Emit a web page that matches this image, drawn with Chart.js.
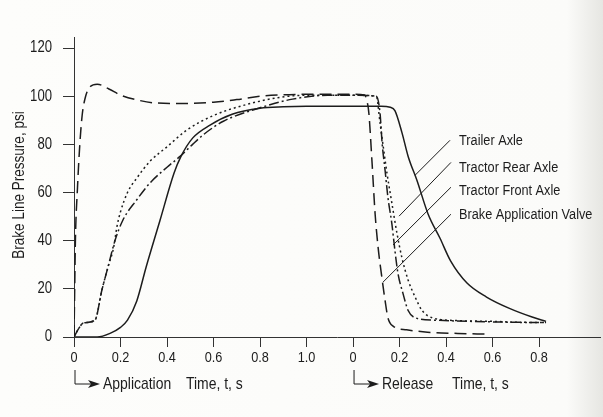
<!DOCTYPE html>
<html>
<head>
<meta charset="utf-8">
<script src="https://cdn.jsdelivr.net/npm/chart.js@4.4.1/dist/chart.umd.min.js"></script>
<style>
  html, body { margin: 0; padding: 0; }
  body {
    width: 603px; height: 417px; overflow: hidden;
    background: linear-gradient(to right, #fdfdfb 0%, #fbfbf9 94%, #e6e6e2 100%);
  }
  #wrap { position: relative; width: 603px; height: 417px; }
</style>
</head>
<body>
<div id="wrap"><canvas id="chart" width="603" height="417"></canvas></div>
<script>
// time axis: application 0..1.0 s, then release time restarts at 0 (placed at 1.2)
const RELEASE_OFFSET = 1.2;
const tickValues = [0, 0.2, 0.4, 0.6, 0.8, 1.0, 1.2, 1.4, 1.6, 1.8, 2.0];
const tickLabels = ["0", "0.2", "0.4", "0.6", "0.8", "1.0", "0", "0.2", "0.4", "0.6", "0.8"];
const pressureTicks = [0, 20, 40, 60, 80, 100, 120];

// [time s, pressure psi]
const trailerApplication = [[0, 0], [0.1, 0], [0.155, 1.5], [0.2, 4], [0.23, 7], [0.27, 15], [0.31, 29],
  [0.37, 48.5], [0.43, 68], [0.46, 75], [0.51, 82.6], [0.585, 88], [0.68, 92.5], [0.8, 95], [0.9, 95.6], [1.0, 95.8]];
const trailerRelease = [[0, 95.8], [0.12, 95.8], [0.16, 95.4], [0.18, 94], [0.21, 85], [0.237, 75], [0.275, 65],
  [0.323, 51], [0.374, 41], [0.42, 31.5], [0.49, 22.4], [0.574, 16.6], [0.67, 12], [0.77, 8.3], [0.83, 6.5]];

const rearApplication = [[0, 0], [0.02, 3.5], [0.04, 5.8], [0.09, 7], [0.12, 19.5], [0.146, 29], [0.17, 37],
  [0.185, 46], [0.2, 52], [0.23, 60], [0.27, 66], [0.327, 73], [0.4, 79], [0.486, 86], [0.6, 92],
  [0.74, 96.5], [0.89, 99.6], [1.0, 100.4]];
const rearRelease = [[0, 100.4], [0.1, 100], [0.116, 89], [0.13, 79], [0.146, 68], [0.167, 55.6], [0.189, 43],
  [0.21, 33], [0.237, 23.6], [0.267, 16.6], [0.297, 11], [0.34, 8], [0.45, 6.8], [0.6, 6.5], [0.75, 6], [0.83, 6]];

const frontApplication = [[0, 0], [0.02, 3.5], [0.04, 5.8], [0.09, 7], [0.12, 19.5], [0.146, 29], [0.176, 40],
  [0.21, 48.5], [0.27, 57], [0.327, 64], [0.4, 70.5], [0.456, 75], [0.51, 80], [0.556, 84], [0.64, 89.5],
  [0.8, 95.2], [0.94, 98.8], [1.09, 100.4]];
const frontRelease = [[0, 100.4], [0.1, 100], [0.116, 93], [0.125, 80.5], [0.138, 69], [0.15, 58], [0.167, 47],
  [0.18, 36], [0.193, 26.5], [0.215, 18], [0.237, 11], [0.267, 8], [0.35, 7], [0.5, 6.5], [0.65, 6.2], [0.83, 6]];

const valveApplication = [[0, 0], [0.003, 20], [0.006, 40], [0.015, 62], [0.025, 80], [0.035, 92], [0.05, 100],
  [0.07, 104], [0.1, 105], [0.15, 103], [0.2, 100.5], [0.27, 98.5], [0.35, 97.2], [0.45, 97], [0.6, 97.5],
  [0.7, 98.6], [0.8, 100], [0.9, 100.6], [1.0, 100.8]];
const valveRelease = [[0, 100.8], [0.05, 100.5], [0.06, 98], [0.068, 93], [0.082, 72], [0.095, 51], [0.108, 37],
  [0.125, 24], [0.138, 15], [0.15, 8], [0.172, 4.5], [0.23, 3], [0.32, 2], [0.45, 1.5], [0.57, 1.2]];

const seriesNames = ["Trailer Axle", "Tractor Rear Axle", "Tractor Front Axle", "Brake Application Valve"];

// callouts: [label x (release s), label y (psi), line from, line to]
const callouts = [
  [0.456, 81.7, [0.417, 81.7], [0.267, 67.2]],
  [0.456, 70.5, [0.421, 72.5], [0.198, 50.2]],
  [0.456, 60.6, [0.421, 62.2], [0.172, 38.2]],
  [0.456, 50.6, [0.421, 51.0], [0.129, 22.8]],
];

const FONT = '"Liberation Sans", Arial, sans-serif';
const SQUEEZE = 0.82; // the printed face is a condensed grotesque
const INK = "#1c1c1c";

function toPoints(app, rel) {
  return app.map(([t, p]) => ({ x: t, y: p }))
    .concat(rel.map(([t, p]) => ({ x: t + RELEASE_OFFSET, y: p })));
}

const styles = [
  { borderDash: [] },
  { borderDash: [2, 3] },
  { borderDash: [10, 3, 2, 3] },
  { borderDash: [12, 6] },
];
const pairs = [
  [trailerApplication, trailerRelease],
  [rearApplication, rearRelease],
  [frontApplication, frontRelease],
  [valveApplication, valveRelease],
];

const datasets = pairs.map((p, i) => ({
  label: seriesNames[i],
  data: toPoints(p[0], p[1]),
  borderColor: INK,
  borderWidth: 1.5,
  borderDash: styles[i].borderDash,
  pointRadius: 0,
  cubicInterpolationMode: "monotone",
  fill: false,
}));

function text(ctx, str, x, y, size, align, rot) {
  ctx.save();
  ctx.translate(x, y);
  if (rot) ctx.rotate(rot);
  ctx.scale(SQUEEZE, 1);
  ctx.font = size + "px " + FONT;
  ctx.textAlign = align;
  ctx.textBaseline = "middle";
  ctx.fillText(str, 0, 0);
  ctx.restore();
}

function drawArrow(ctx, x0, y0, y1, x1) {
  ctx.beginPath();
  ctx.moveTo(x0, y0);
  ctx.lineTo(x0, y1);
  ctx.lineTo(x1 - 8, y1);
  ctx.stroke();
  ctx.beginPath();
  ctx.moveTo(x1, y1);
  ctx.lineTo(x1 - 12, y1 - 4);
  ctx.lineTo(x1 - 9, y1);
  ctx.lineTo(x1 - 12, y1 + 4);
  ctx.closePath();
  ctx.fill();
}

const extras = {
  id: "extras",
  afterDraw(chart) {
    const ctx = chart.ctx;
    const xs = chart.scales.x, ys = chart.scales.y;
    const area = chart.chartArea;
    ctx.save();
    ctx.fillStyle = INK;
    ctx.strokeStyle = INK;
    ctx.lineWidth = 1;

    // tick labels
    tickValues.forEach((v, i) => {
      text(ctx, tickLabels[i], xs.getPixelForValue(v), area.bottom + 21, 15.5, "center");
    });
    pressureTicks.forEach((v) => {
      text(ctx, String(v), area.left - 22, ys.getPixelForValue(v), 16, "right");
    });

    // y title
    text(ctx, "Brake Line Pressure, psi", 19, (area.top + area.bottom) / 2 - 2, 16.5, "center", -Math.PI / 2);

    // callouts
    callouts.forEach((c, i) => {
      const [lx, ly, a, b] = c;
      ctx.beginPath();
      ctx.moveTo(xs.getPixelForValue(a[0] + RELEASE_OFFSET), ys.getPixelForValue(a[1]));
      ctx.lineTo(xs.getPixelForValue(b[0] + RELEASE_OFFSET), ys.getPixelForValue(b[1]));
      ctx.stroke();
      text(ctx, seriesNames[i], xs.getPixelForValue(lx + RELEASE_OFFSET), ys.getPixelForValue(ly), 15.5, "left");
    });

    // bottom arrows
    const rowY = area.bottom + 47;
    const appX = xs.getPixelForValue(0) + 1;
    const relX = xs.getPixelForValue(RELEASE_OFFSET) + 1;
    drawArrow(ctx, appX, rowY - 14, rowY, appX + 25);
    drawArrow(ctx, relX, rowY - 14, rowY, relX + 25);
    text(ctx, "Application", appX + 28, rowY, 17, "left");
    text(ctx, "Time, t, s", appX + 111, rowY, 17, "left");
    text(ctx, "Release", relX + 28, rowY, 17, "left");
    text(ctx, "Time, t, s", relX + 98, rowY, 17, "left");
    ctx.restore();
  },
};

new Chart(document.getElementById("chart"), {
  type: "line",
  data: { datasets },
  plugins: [extras],
  options: {
    responsive: false,
    animation: false,
    layout: { padding: { top: 37, right: 3, left: 0, bottom: 0 } },
    plugins: { legend: { display: false }, tooltip: { enabled: false } },
    scales: {
      x: {
        type: "linear",
        min: 0,
        max: 2.262,
        afterFit: (scale) => { scale.height = 80; },
        afterBuildTicks: (scale) => { scale.ticks = tickValues.map((v) => ({ value: v })); },
        ticks: { display: false },
        grid: { drawOnChartArea: false, drawTicks: true, tickLength: 10, color: "#333" },
        border: { display: true, color: "#333", width: 1 },
      },
      y: {
        min: 0,
        max: 124.6,
        afterFit: (scale) => { scale.width = 74; },
        afterBuildTicks: (scale) => { scale.ticks = pressureTicks.map((v) => ({ value: v })); },
        ticks: { display: false },
        grid: { drawOnChartArea: false, drawTicks: true, tickLength: 11, color: "#333" },
        border: { display: true, color: "#333", width: 1 },
      },
    },
  },
});
</script>
</body>
</html>
